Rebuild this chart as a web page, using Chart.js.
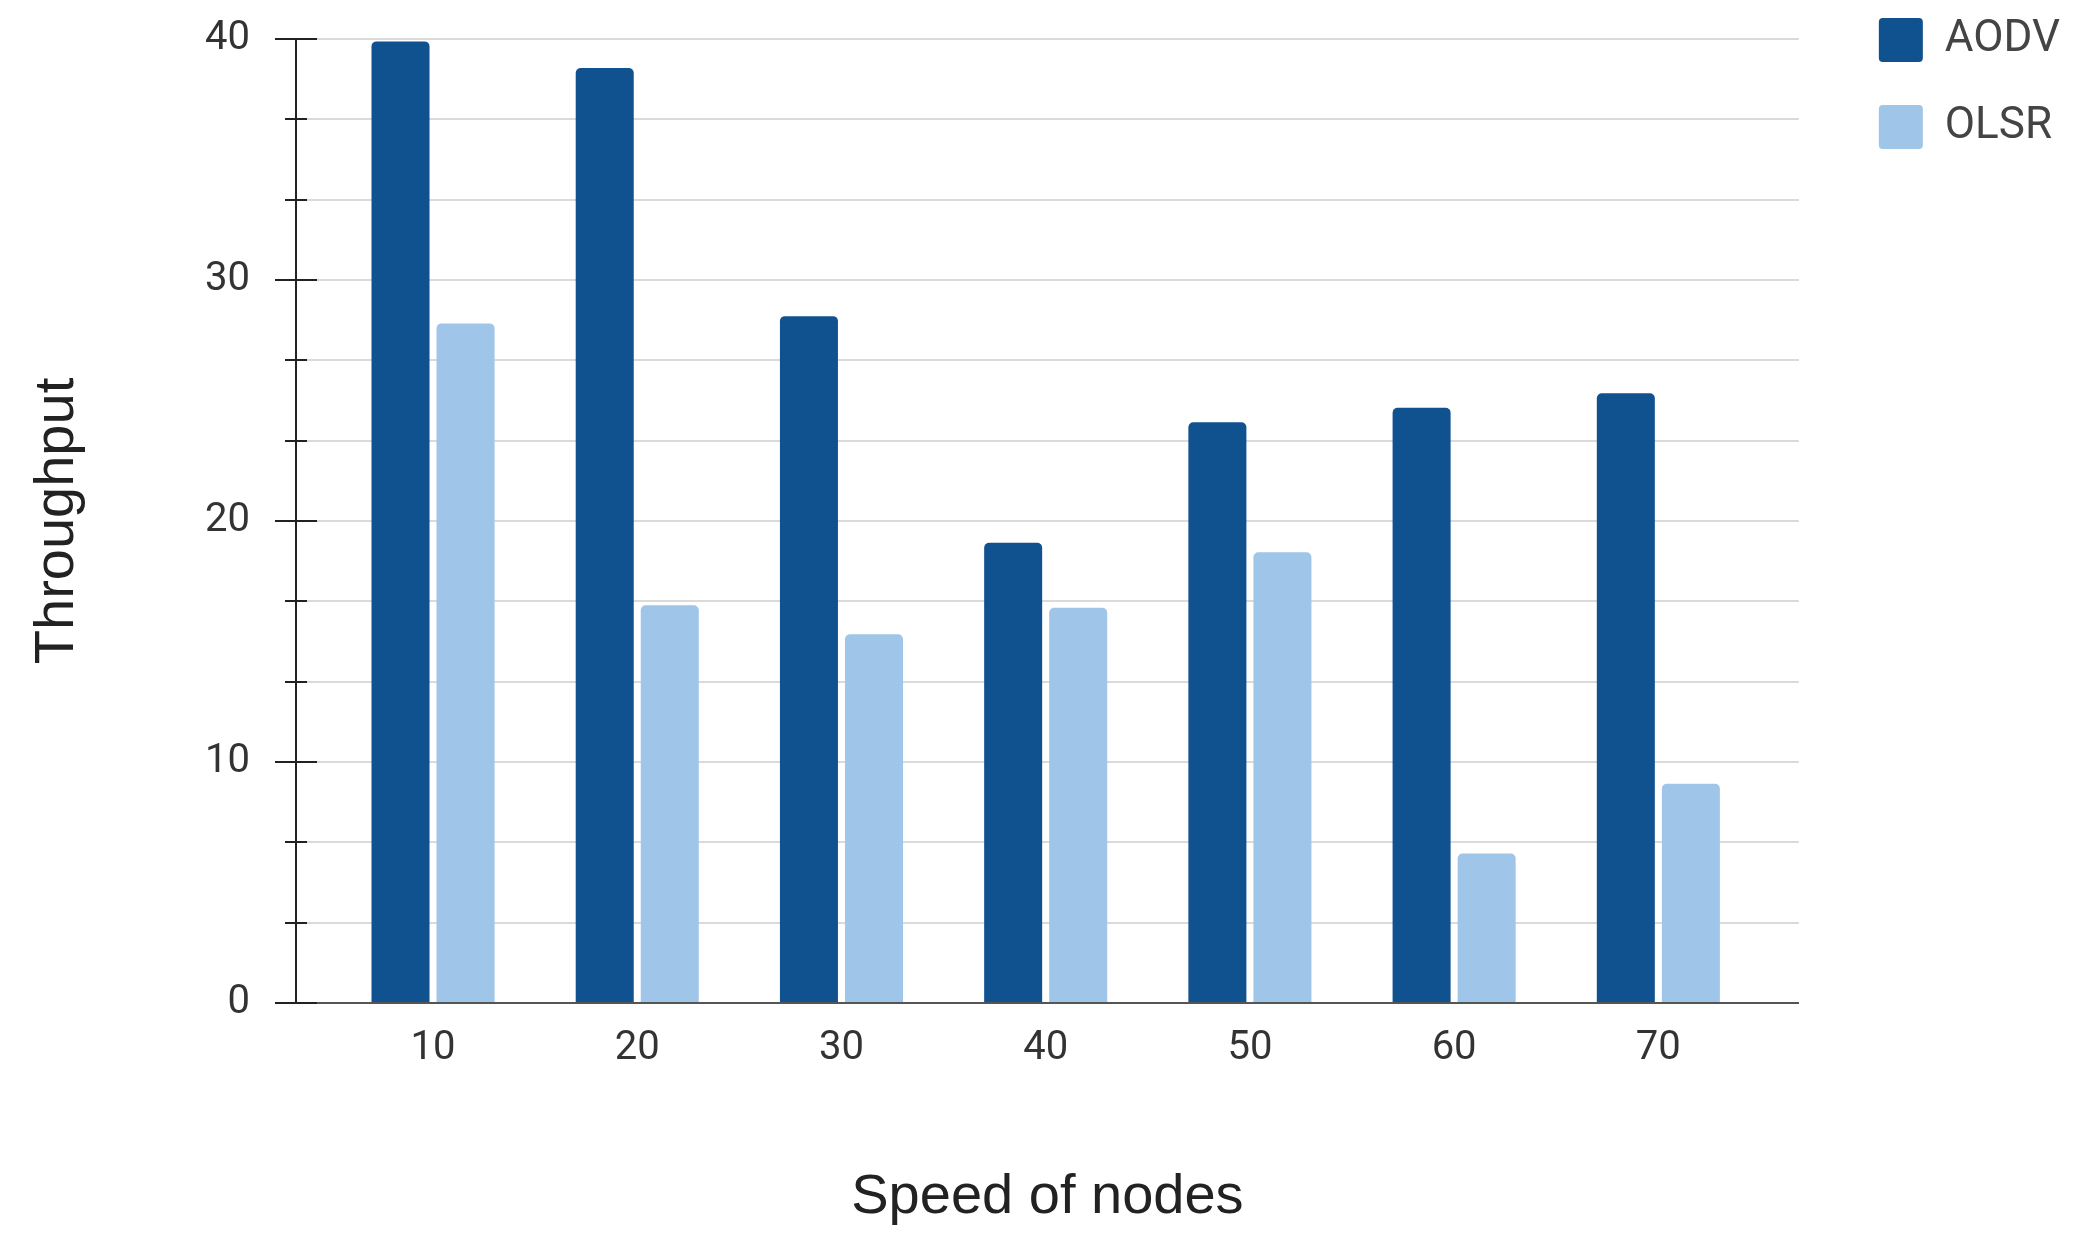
<!DOCTYPE html>
<html>
<head>
<meta charset="utf-8">
<script src="https://cdn.jsdelivr.net/npm/chart.js@4.4.0/dist/chart.umd.min.js"></script>
<style>
  html, body { margin: 0; padding: 0; background: #fff; }
  #wrap { width: 2079px; height: 1233px; }
</style>
</head>
<body>
<div id="wrap"><canvas id="throughputChart" width="2079" height="1233"></canvas></div>
<script>
const speeds = [10, 20, 30, 40, 50, 60, 70];
const aodvThroughput = [39.9, 38.8, 28.5, 19.1, 24.1, 24.7, 25.3];
const olsrThroughput = [28.2, 16.5, 15.3, 16.4, 18.7, 6.2, 9.1];
const seriesNames = ['AODV', 'OLSR'];
const seriesColors = ['#10518f', '#9fc5e8'];
const yMax = 40;
const yMajorStep = 10;
const yMinorPerMajor = 3;

function isMajor(v) {
  return Math.abs(v / yMajorStep - Math.round(v / yMajorStep)) < 1e-6;
}

// tick marks that cross the y axis line (long on labels, short on minor lines)
const axisTicks = {
  id: 'axisTicks',
  afterDraw(chart) {
    const y = chart.scales.y;
    const ctx = chart.ctx;
    const x0 = chart.chartArea.left;
    ctx.save();
    ctx.strokeStyle = '#222';
    ctx.lineWidth = 2;
    y.ticks.forEach(t => {
      const py = Math.round(y.getPixelForValue(t.value));
      const half = isMajor(t.value) ? 21 : 11;
      ctx.beginPath();
      ctx.moveTo(x0 - half, py);
      ctx.lineTo(x0 + half, py);
      ctx.stroke();
    });
    ctx.restore();
  }
};

const ctx = document.getElementById('throughputChart').getContext('2d');
new Chart(ctx, {
  type: 'bar',
  data: {
    datasets: [
      {
        label: seriesNames[0],
        data: speeds.map((s, i) => ({ x: s, y: aodvThroughput[i] })),
        backgroundColor: seriesColors[0],
        borderRadius: 5
      },
      {
        label: seriesNames[1],
        data: speeds.map((s, i) => ({ x: s, y: olsrThroughput[i] })),
        backgroundColor: seriesColors[1],
        borderRadius: 5
      }
    ]
  },
  options: {
    responsive: false,
    animation: false,
    devicePixelRatio: 1,
    layout: { padding: { top: 0, right: 9, bottom: 0, left: 0 } },
    datasets: {
      bar: { categoryPercentage: 0.637, barPercentage: 0.892 }
    },
    scales: {
      x: {
        type: 'linear',
        offset: false,
        min: 3.29,
        max: 76.88,
        afterBuildTicks: s => { s.ticks = speeds.map(v => ({ value: v })); },
        afterFit: s => { s.height = 230; },
        grid: { display: false, drawTicks: false, offset: false },
        border: { display: true, color: '#555', width: 2 },
        ticks: {
          padding: 22,
          color: '#333',
          font: { family: 'Roboto', size: 40 }
        },
        title: {
          display: true,
          text: 'Speed of nodes',
          color: '#222',
          font: { family: 'Liberation Sans', size: 56 },
          padding: { top: 0, bottom: 2 }
        }
      },
      y: {
        min: 0,
        max: yMax,
        afterFit: s => { s.width = 296; },
        ticks: {
          stepSize: yMajorStep / yMinorPerMajor,
          padding: 15,
          color: '#333',
          font: { family: 'Roboto', size: 40 },
          callback: v => isMajor(v) ? String(Math.round(v)) : ''
        },
        grid: {
          color: c => (c.tick && Math.abs(c.tick.value) < 1e-6) ? '#555' : '#dadada',
          lineWidth: 2,
          drawTicks: true,
          tickLength: 31,
          tickColor: 'rgba(0,0,0,0)'
        },
        border: { display: true, color: '#222', width: 2 },
        title: {
          display: true,
          text: 'Throughput',
          color: '#222',
          font: { family: 'Liberation Sans', size: 56 },
          padding: { top: 24, bottom: 0 }
        }
      },
      spacer: {
        position: 'right',
        display: true,
        afterFit: s => { s.width = 62; },
        grid: { display: false, drawTicks: false },
        border: { display: false },
        ticks: { display: false }
      }
    },
    plugins: {
      legend: {
        position: 'right',
        align: 'start',
        labels: {
          boxWidth: 44,
          boxHeight: 44,
          padding: 18,
          color: '#444',
          useBorderRadius: true,
          borderRadius: 4,
          font: { family: 'Roboto', size: 44, lineHeight: 69 / 44 },
          generateLabels: chart =>
            Chart.defaults.plugins.legend.labels.generateLabels(chart).map(l => ({ ...l, text: [l.text] }))
        }
      },
      tooltip: { enabled: false }
    }
  },
  plugins: [axisTicks]
});
</script>
</body>
</html>
